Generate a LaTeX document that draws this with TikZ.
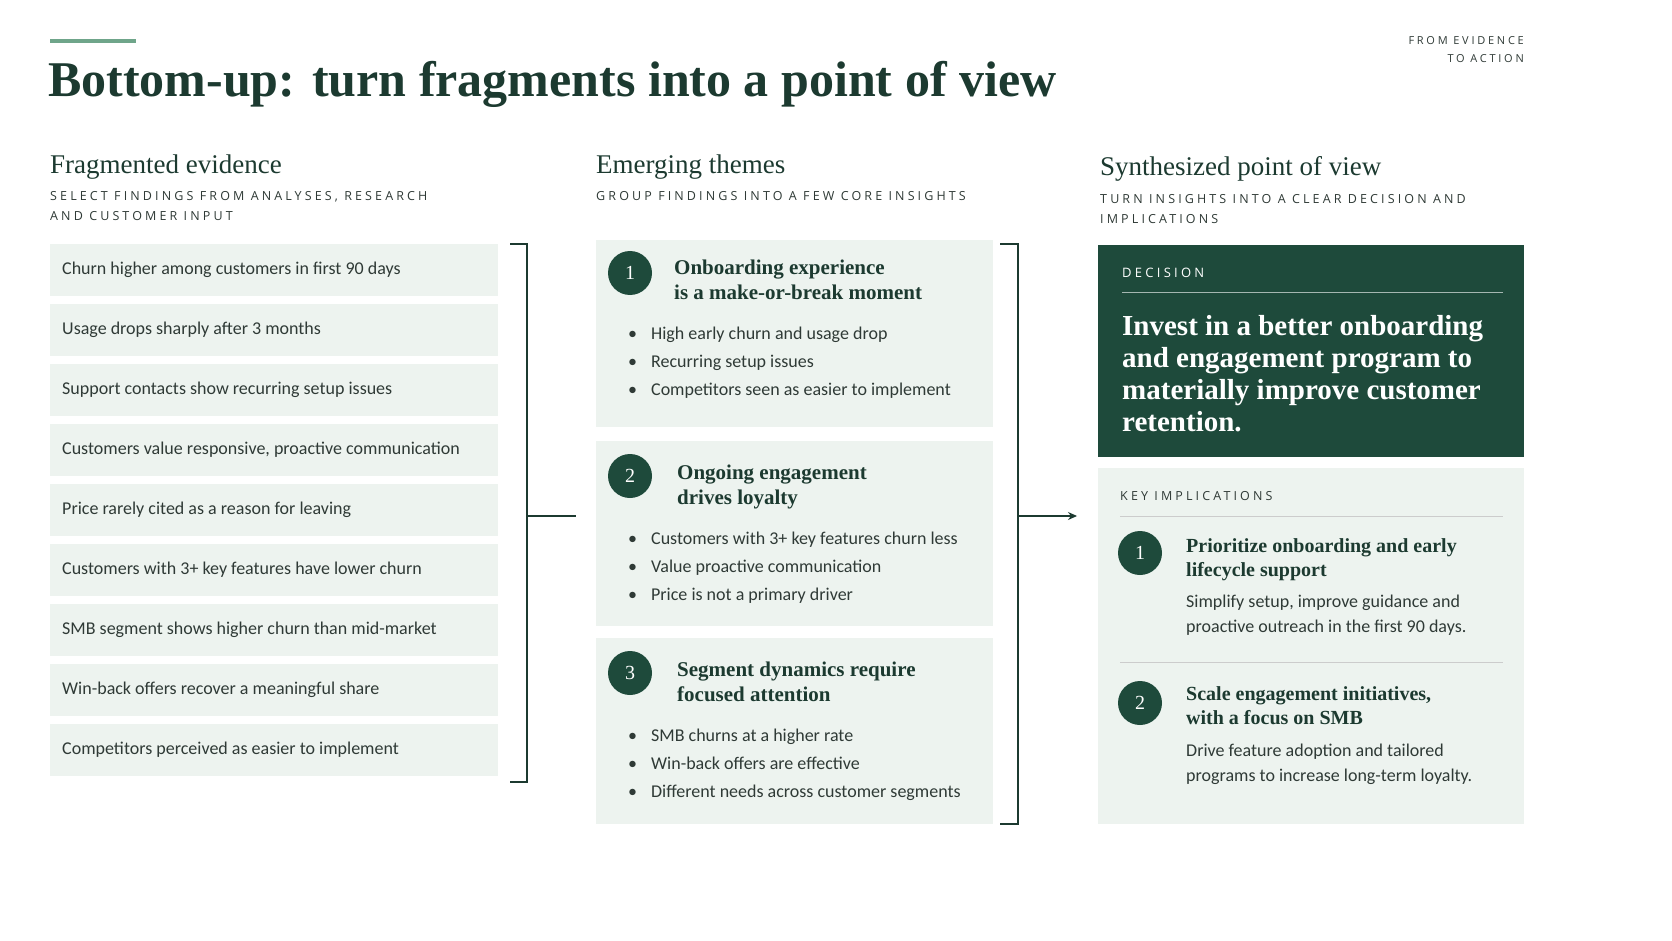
\documentclass[tikz,border=0pt]{standalone}
\usepackage{fontspec}
\setmainfont{Liberation Serif}
\newfontfamily\bodyf{Carlito}
\newfontfamily\capsf{Open Sans}[LetterSpace=25]
\usetikzlibrary{arrows.meta}
\definecolor{dk}{HTML}{1E4A3B}
\definecolor{ink}{HTML}{1C3A30}
\definecolor{lt}{HTML}{EDF3EF}
\definecolor{acc}{HTML}{6FA58A}
\definecolor{tx}{HTML}{2F3A36}
\begin{document}
\begin{tikzpicture}[x=1pt,y=-1pt,
 ev/.style={fill=lt,draw=none},
 evt/.style={anchor=west,font=\bodyf\fontsize{18}{20}\selectfont,text=tx,inner sep=0},
 colh/.style={anchor=base west,font=\fontsize{27}{30}\selectfont,text=ink,inner sep=0},
 sub/.style={anchor=base west,font=\capsf\fontsize{12.5}{19.5}\selectfont,text=tx,inner sep=0,align=left},
 num/.style={circle,fill=dk,minimum size=44pt,inner sep=0,text=white,font=\fontsize{20}{20}\selectfont},
 tht/.style={anchor=base west,font=\bfseries\fontsize{21}{25}\selectfont,text=ink,inner sep=0,align=left},
 bul/.style={anchor=base west,font=\bodyf\fontsize{18}{28.3}\selectfont,text=tx,inner sep=0,align=left},
 brk/.style={draw=ink,line width=1.2pt}]
\useasboundingbox (0,0) rectangle (1672,941);
\fill[white] (0,0) rectangle (1672,941);
\draw[acc,line width=4pt] (50,41) -- (136,41);
\node[anchor=base west,inner sep=0,font=\bfseries\fontsize{50}{50}\selectfont,text=ink] (title) at (48,97) {Bottom-up: turn fragments into a point of view};
\node[anchor=north east,inner sep=0,align=right,font=\capsf\fontsize{11}{18}\selectfont,text=tx] (tag) at (1524,36) {FROM EVIDENCE\\TO ACTION};
% column 1
\node[colh] (h1) at (50,174) {Fragmented evidence};
\node[sub] (s1) at (50,220.5) {SELECT FINDINGS FROM ANALYSES, RESEARCH\\AND CUSTOMER INPUT};
\foreach \i/\t in {0/Churn higher among customers in first 90 days,1/Usage drops sharply after 3 months,2/Support contacts show recurring setup issues,3/{Customers value responsive, proactive communication},4/Price rarely cited as a reason for leaving,5/Customers with 3+ key features have lower churn,6/SMB segment shows higher churn than mid-market,7/Win-back offers recover a meaningful share,8/Competitors perceived as easier to implement}{
 \fill[ev] (50,244+60*\i) rectangle (498,296+60*\i);
 \node[evt] (e\i) at (62,270+60*\i) {\t};
}
\draw[brk] (510,244) -- (527,244) -- (527,782) -- (510,782);
\coordinate (b1) at (527,516); \coordinate (b1e) at (576,516);
\draw[brk] (b1) -- (b1e);
% column 2
\node[colh] (h2) at (596,174) {Emerging themes};
\node[sub] (s2) at (596,201) {GROUP FINDINGS INTO A FEW CORE INSIGHTS};
\fill[ev] (596,240) rectangle (993,427);
\fill[ev] (596,441) rectangle (993,626);
\fill[ev] (596,638) rectangle (993,824);
\node[num] (n1) at (630,273) {1};
\node[num] (n2) at (630,476) {2};
\node[num] (n3) at (630,673) {3};
\node[tht] (t1) at (674,299) {Onboarding experience\\is a make-or-break moment};
\node[tht] (t2) at (677,504) {Ongoing engagement\\drives loyalty};
\node[tht] (t3) at (677,701) {Segment dynamics require\\focused attention};
\node[bul] (l1) at (628,395.6) {\textbullet\hspace{14pt}High early churn and usage drop\\\textbullet\hspace{14pt}Recurring setup issues\\\textbullet\hspace{14pt}Competitors seen as easier to implement};
\node[bul] (l2) at (628,600.6) {\textbullet\hspace{14pt}Customers with 3+ key features churn less\\\textbullet\hspace{14pt}Value proactive communication\\\textbullet\hspace{14pt}Price is not a primary driver};
\node[bul] (l3) at (628,797.6) {\textbullet\hspace{14pt}SMB churns at a higher rate\\\textbullet\hspace{14pt}Win-back offers are effective\\\textbullet\hspace{14pt}Different needs across customer segments};
\draw[brk] (1000,244) -- (1018,244) -- (1018,824) -- (1000,824);
\coordinate (b2) at (1018,516); \coordinate (b2e) at (1077,516);
\draw[brk,-{Stealth[length=9pt,width=8pt]}] (b2) -- (b2e);
% column 3
\node[colh] (h3) at (1100,176) {Synthesized point of view};
\node[sub] (s3) at (1100,223.5) {TURN INSIGHTS INTO A CLEAR DECISION AND\\IMPLICATIONS};
\fill[dk] (1098,245) rectangle (1524,457);
\node[anchor=base west,inner sep=0,font=\capsf\fontsize{13}{13}\selectfont,text=white] (dec) at (1122,277) {DECISION};
\draw[white!60!dk,line width=1pt] (1122,292) -- (1503,292);
\node[anchor=base west,inner sep=0,align=left,text=white,font=\bfseries\fontsize{29}{32}\selectfont] (dtxt) at (1122,431) {Invest in a better onboarding\\and engagement program to\\materially improve customer\\retention.};
\fill[ev] (1098,468) rectangle (1524,824);
\node[anchor=base west,inner sep=0,font=\capsf\fontsize{12.5}{13}\selectfont,text=tx] (ki) at (1120,500) {KEY IMPLICATIONS};
\draw[black!20,line width=1pt] (1120,516) -- (1503,516);
\node[num] (m1) at (1140,553) {1};
\node[num] (m2) at (1140,703) {2};
\node[anchor=base west,inner sep=0,align=left,font=\bfseries\fontsize{20}{24}\selectfont,text=ink] (k1) at (1186,576) {Prioritize onboarding and early\\lifecycle support};
\node[anchor=base west,inner sep=0,align=left,font=\bodyf\fontsize{18}{25.5}\selectfont,text=tx] (d1) at (1186,632.5) {Simplify setup, improve guidance and\\proactive outreach in the first 90 days.};
\draw[black!20,line width=1pt] (1120,662) -- (1503,662);
\node[anchor=base west,inner sep=0,align=left,font=\bfseries\fontsize{20}{24}\selectfont,text=ink] (k2) at (1186,724) {Scale engagement initiatives,\\with a focus on SMB};
\node[anchor=base west,inner sep=0,align=left,font=\bodyf\fontsize{18}{25.5}\selectfont,text=tx] (d2) at (1186,781.5) {Drive feature adoption and tailored\\programs to increase long-term loyalty.};
\end{tikzpicture}
\end{document}
